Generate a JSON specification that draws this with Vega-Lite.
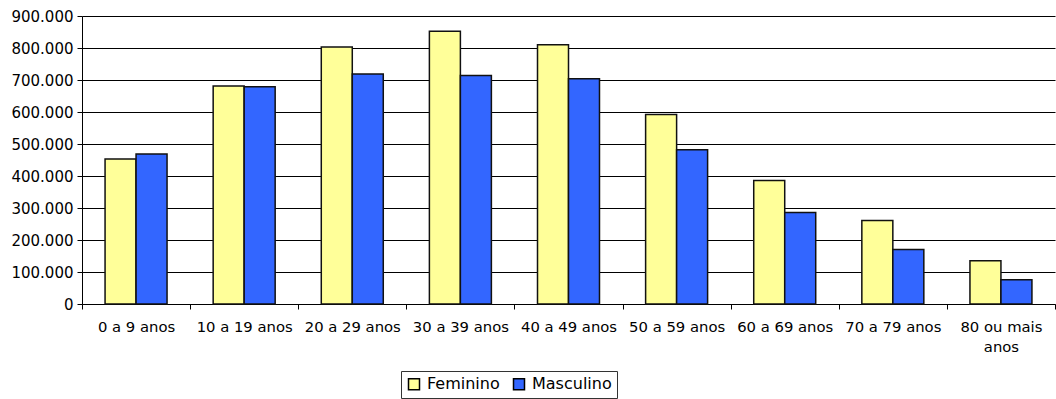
{
  "$schema": "https://vega.github.io/schema/vega-lite/v6.json",
  "autosize": {"type": "none"},
  "width": 973,
  "height": 288,
  "padding": {"left": 82, "top": 16, "right": 1, "bottom": 95},
  "background": "white",
  "data": {
    "values": [
      {"faixa": "0 a 9 anos", "sexo": "Feminino", "pop": 453500},
      {"faixa": "0 a 9 anos", "sexo": "Masculino", "pop": 469000},
      {"faixa": "10 a 19 anos", "sexo": "Feminino", "pop": 681000},
      {"faixa": "10 a 19 anos", "sexo": "Masculino", "pop": 679000},
      {"faixa": "20 a 29 anos", "sexo": "Feminino", "pop": 803000},
      {"faixa": "20 a 29 anos", "sexo": "Masculino", "pop": 719000},
      {"faixa": "30 a 39 anos", "sexo": "Feminino", "pop": 852000},
      {"faixa": "30 a 39 anos", "sexo": "Masculino", "pop": 714000},
      {"faixa": "40 a 49 anos", "sexo": "Feminino", "pop": 810000},
      {"faixa": "40 a 49 anos", "sexo": "Masculino", "pop": 704000},
      {"faixa": "50 a 59 anos", "sexo": "Feminino", "pop": 592000},
      {"faixa": "50 a 59 anos", "sexo": "Masculino", "pop": 482000},
      {"faixa": "60 a 69 anos", "sexo": "Feminino", "pop": 386000},
      {"faixa": "60 a 69 anos", "sexo": "Masculino", "pop": 286000},
      {"faixa": "70 a 79 anos", "sexo": "Feminino", "pop": 261000},
      {"faixa": "70 a 79 anos", "sexo": "Masculino", "pop": 170000},
      {"faixa": "80 ou mais anos", "sexo": "Feminino", "pop": 135000},
      {"faixa": "80 ou mais anos", "sexo": "Masculino", "pop": 76000}
    ]
  },
  "mark": {"type": "bar", "stroke": "#111111", "strokeWidth": 1.5},
  "encoding": {
    "x": {
      "field": "faixa",
      "type": "nominal",
      "sort": null,
      "title": null,
      "scale": {"paddingInner": 0, "paddingOuter": 0},
      "axis": {
        "labelAngle": 0,
        "labelFont": "DejaVu Sans",
        "labelFontSize": 14.8,
        "labelColor": "#000000",
        "labelPadding": 10,
        "labelLineHeight": 20,
        "labelBaseline": "top",
        "labelExpr": "datum.label == '80 ou mais anos' ? ['80 ou mais', 'anos'] : datum.label",
        "tickBand": "extent",
        "tickSize": 5,
        "tickColor": "#000000",
        "domainColor": "#000000",
        "grid": false
      }
    },
    "xOffset": {
      "field": "sexo",
      "type": "nominal",
      "scale": {"paddingInner": 0, "paddingOuter": 0.744}
    },
    "y": {
      "field": "pop",
      "type": "quantitative",
      "title": null,
      "scale": {"domain": [0, 900000], "nice": false},
      "axis": {
        "values": [0, 100000, 200000, 300000, 400000, 500000, 600000, 700000, 800000, 900000],
        "format": ",.0f",
        "labelFont": "DejaVu Sans",
        "labelFontSize": 15,
        "labelColor": "#000000",
        "labelPadding": 4,
        "tickSize": 5,
        "tickColor": "#000000",
        "domainColor": "#000000",
        "grid": true,
        "gridColor": "#000000",
        "gridWidth": 1,
        "gridOpacity": 1
      }
    },
    "color": {
      "field": "sexo",
      "type": "nominal",
      "scale": {"domain": ["Feminino", "Masculino"], "range": ["#FFFF99", "#3366FF"]},
      "legend": {
        "title": null,
        "orient": "none",
        "legendX": 319,
        "legendY": 355,
        "direction": "horizontal",
        "symbolType": "square",
        "symbolSize": 121,
        "symbolStrokeColor": "#000000",
        "symbolStrokeWidth": 1.5,
        "symbolOpacity": 1,
        "labelFont": "DejaVu Sans",
        "labelFontSize": 16,
        "labelColor": "#000000",
        "labelOffset": 5,
        "columnPadding": 10,
        "padding": 5,
        "strokeColor": "#333333",
        "fillColor": "#ffffff"
      }
    }
  },
  "config": {
    "view": {"stroke": null},
    "locale": {
      "number": {"decimal": ",", "thousands": ".", "grouping": [3], "currency": ["R$", ""]}
    }
  }
}
